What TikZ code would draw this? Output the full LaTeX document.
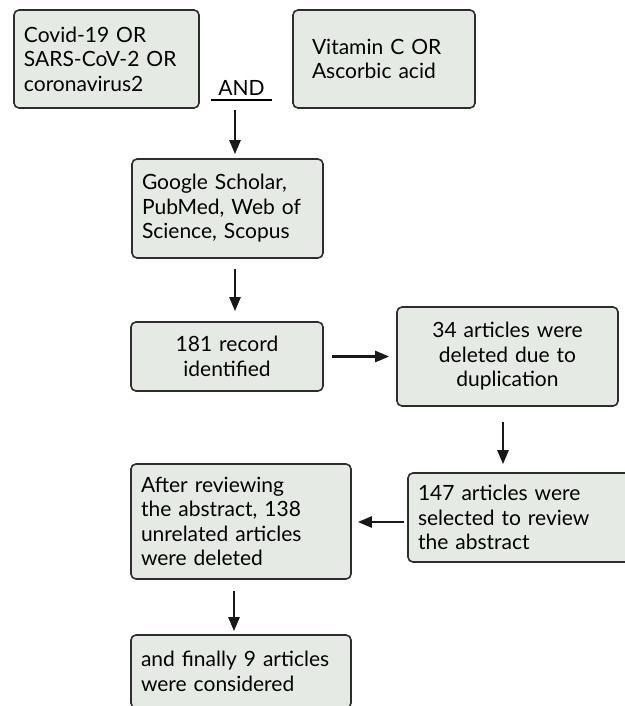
\documentclass[tikz,border=0pt]{standalone}
\usepackage{fontspec}
\setmainfont{Lato}
\usetikzlibrary{arrows.meta}
\definecolor{boxfill}{RGB}{230,234,228}
\definecolor{boxline}{RGB}{45,45,45}
\begin{document}
\begin{tikzpicture}[x=0.5pt,y=-0.5pt,
    every node/.style={font=\fontsize{10.5}{12.25}\selectfont},
    flowbox/.style={draw=boxline, line width=0.8pt, fill=boxfill, rounded corners=2.5pt,
        inner xsep=5pt, inner ysep=0pt, align=left},
    arr/.style={draw=black!90, line width=1.2pt, -{Triangle[width=5.5pt,length=7pt]}}]
    \useasboundingbox (0,0) rectangle (625,706);

    % Search terms
    \node[flowbox, minimum width=92.5pt, minimum height=49pt, text width=82.5pt] (terms) at (106.5,59)
        {Covid-19 OR\\SARS-CoV-2 OR\\coronavirus2};
    \node[flowbox, minimum width=91pt, minimum height=49pt, text width=72pt] (vitc) at (384,59)
        {Vitamin C OR\\Ascorbic acid};
    \node[minimum width=29.5pt, inner ysep=2pt, anchor=south] (and) at (241.5,100) {AND};
    \draw[line width=1.1pt] (and.south west) -- (and.south east);

    % Databases and records
    \node[flowbox, minimum width=95.5pt, minimum height=49.5pt, text width=85.5pt] (db) at (227.5,208.5)
        {Google Scholar,\\PubMed, Web of\\Science, Scopus};
    \node[flowbox, minimum width=96pt, minimum height=34.5pt, text width=86pt, align=center] (found) at (227,356.5)
        {181 record\\identified};
    \node[flowbox, minimum width=110.5pt, minimum height=49.5pt, text width=100.5pt, align=center] (dupl) at (507.5,356.5)
        {34 articles were\\deleted due to\\duplication};

    % Screening
    \node[flowbox, minimum width=116pt, minimum height=44.5pt, text width=106pt] (select) at (524,517.5)
        {147 articles were\\selected to review\\the abstract};
    \node[flowbox, minimum width=110pt, minimum height=57.5pt, text width=100pt] (review) at (241,521.5)
        {After reviewing\\the abstract, 138\\unrelated articles\\were deleted};
    \node[flowbox, minimum width=110pt, minimum height=36.5pt, text width=100pt] (final) at (241,671.5)
        {and finally 9 articles\\were considered};

    % Arrows
    \draw[arr, shorten <=5pt, shorten >=2pt] (and.south -| 235,0) -- (db.north -| 235,0);
    \draw[arr, shorten <=5pt, shorten >=5pt] (db.south -| 235,0) -- (found.north -| 235,0);
    \draw[arr, shorten <=4pt, shorten >=3.5pt] (found.east) -- (dupl.west |- found.east);
    \draw[arr, shorten <=7.5pt, shorten >=4pt] (dupl.south -| 503,0) -- (select.north -| 503,0);
    \draw[arr, shorten <=1.5pt, shorten >=3pt] (select.west |- 0,522) -- (review.east |- 0,522);
    \draw[arr, shorten <=5.5pt, shorten >=1.5pt] (review.south -| 234,0) -- (final.north -| 234,0);
\end{tikzpicture}
\end{document}
